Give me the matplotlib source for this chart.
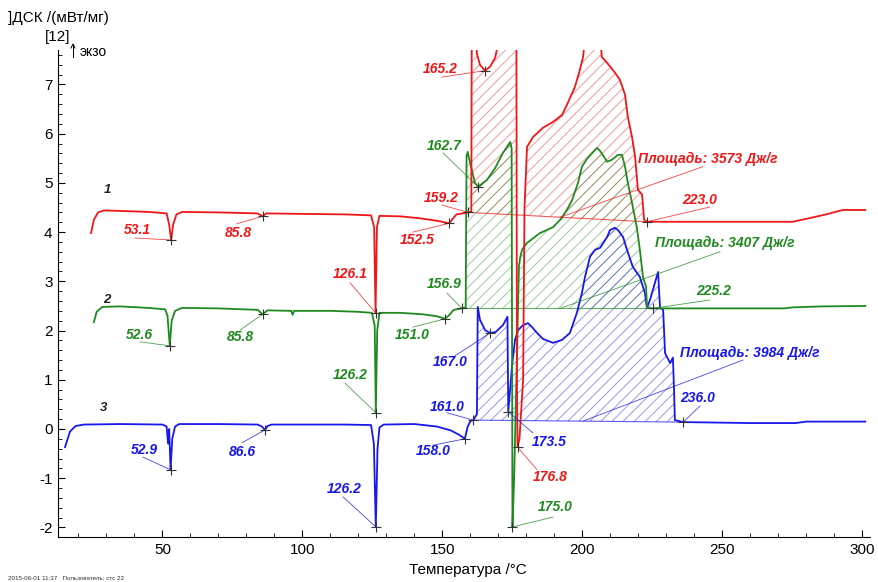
import numpy as np
import matplotlib.pyplot as plt
from matplotlib.ticker import MultipleLocator

plt.rcParams['font.family'] = ['Liberation Sans', 'DejaVu Sans']
plt.rcParams['hatch.linewidth'] = 0.6
plt.rcParams['axes.unicode_minus'] = False

RED = '#f21616'
GREEN = '#1f8a1f'
BLUE = '#1717ee'

# curve 1 (red)
t1 = [24.5, 25.5, 27, 29, 35, 45, 51.5, 52.4, 53.1, 53.8, 55, 57, 70, 84, 85.8, 87, 100, 115,
      124.5, 125.6, 126.1, 126.6, 127.5, 135, 142, 148, 152.5, 153.5, 155, 159.2, 160.3, 160.5,
      161.8, 162.3, 163.4, 165.2, 167.0, 168.8, 169.6, 170.5, 176.4, 176.6, 176.8, 177.5, 178.8,
      179.3, 180.2, 182.3, 185.9, 189.5, 192.7, 194.8, 197.3, 199.1, 200.2, 201.5, 204, 206,
      206.9, 208.8, 211.6, 213.4, 215.2, 216.2, 217.7, 218.8, 219.8, 221.3, 222.0, 223.0, 240,
      260, 275, 280, 287, 293, 301]
y1 = [3.98, 4.25, 4.40, 4.44, 4.43, 4.41, 4.38, 4.15, 3.84, 4.15, 4.36, 4.41, 4.40, 4.38, 4.32,
      4.38, 4.37, 4.36, 4.34, 4.10, 2.36, 4.10, 4.33, 4.32, 4.28, 4.23, 4.18, 4.26, 4.36, 4.40,
      4.42, 9.0, 8.2, 7.62, 7.40, 7.28, 7.36, 7.54, 7.75, 8.5, 8.5, 1.0, -0.37, -0.2, 1.0, 4.5,
      5.73, 5.93, 6.12, 6.24, 6.38, 6.63, 6.95, 7.30, 7.56, 8.2, 8.6, 8.2, 7.56, 7.44, 7.24, 7.09,
      6.79, 6.34, 5.93, 5.53, 4.86, 4.76, 4.25, 4.21, 4.21, 4.21, 4.21, 4.27, 4.36, 4.45, 4.45]

# curve 2 (green)
t2 = [25.5, 26.5, 28.5, 35, 45, 51.0, 51.8, 52.6, 53.3, 54.5, 57, 70, 84, 85.8, 87.5, 96, 96.5,
      97, 110, 120, 124.8, 125.8, 126.2, 126.7, 127.5, 135, 143, 148, 151.0, 152.5, 154, 156.9,
      158.3, 158.6, 159.0, 159.5, 160.5, 161.6, 162.7, 165.9, 168.8, 171.6, 174.2, 174.7, 175.0,
      175.6, 176.8, 177.3, 177.8, 178.5, 180.2, 184.8, 189.5, 192.7, 194.8, 196.3, 198.4, 199.8,
      201.9, 205.2, 206.3, 208.8, 210.5, 212.7, 214.1, 215.2, 216.2, 217.7, 219.4, 220.5, 221.6,
      222.7, 223.1, 225.2, 250, 272, 275, 285, 301]
y2 = [2.17, 2.38, 2.48, 2.49, 2.46, 2.43, 2.30, 1.69, 2.20, 2.40, 2.46, 2.45, 2.42, 2.33, 2.41,
      2.40, 2.32, 2.40, 2.40, 2.38, 2.36, 2.10, 0.33, 2.00, 2.36, 2.36, 2.33, 2.29, 2.24, 2.32,
      2.42, 2.45, 2.47, 5.55, 5.63, 5.50, 5.26, 5.00, 4.92, 5.06, 5.30, 5.61, 5.83, 5.70, -1.99,
      -1.0, 2.0, 3.3, 3.5, 3.65, 3.78, 3.98, 4.10, 4.29, 4.49, 4.65, 5.00, 5.33, 5.51, 5.71, 5.65,
      5.43, 5.47, 5.57, 5.57, 5.33, 5.00, 4.59, 4.10, 3.64, 3.09, 2.89, 2.46, 2.45, 2.45, 2.45,
      2.47, 2.49, 2.50]

# curve 3 (blue)
t3 = [15.2, 17, 19, 22, 35, 50, 51.5, 52.0, 52.4, 52.9, 53.5, 54.5, 56, 70, 84, 85.5, 86.6, 87.5,
      89, 100, 115, 124.5, 125.5, 126.2, 126.8, 127.5, 129, 140, 148, 153, 156, 158.0, 159, 160,
      161.0, 162.3, 162.6, 163.4, 165.2, 167.0, 169, 171.6, 173.2, 173.4, 173.5, 174.3, 174.8,
      175.9, 177, 178.8, 180.5, 182, 183.8, 185.9, 189.5, 192.7, 195.5, 198, 199.8, 200.9, 202.7,
      204.5, 206.3, 208.8, 209.8, 211.6, 212.7, 214.5, 215.9, 218, 220.5, 222.3, 223.0, 224.1,
      227, 227.7, 228.8, 229.5, 231.3, 232.3, 232.7, 233, 236.0, 260, 276, 280, 301]
y3 = [-0.37, -0.05, 0.06, 0.09, 0.10, 0.09, 0.05, -0.30, 0.0, -0.83, -0.20, 0.05, 0.10, 0.10,
      0.09, 0.05, -0.02, 0.06, 0.09, 0.09, 0.09, 0.08, -0.30, -1.99, -0.40, 0.03, 0.09, 0.10,
      0.05, -0.03, -0.12, -0.20, 0.05, 0.16, 0.18, 0.30, 2.48, 2.22, 2.01, 1.95, 1.97, 2.11, 2.28,
      1.0, 0.35, 0.90, 1.26, 1.81, 2.01, 2.11, 2.15, 2.07, 1.95, 1.83, 1.75, 1.81, 1.95, 2.36,
      2.76, 3.09, 3.50, 3.64, 3.68, 3.90, 4.04, 4.09, 4.04, 3.90, 3.64, 3.29, 3.09, 2.76, 2.46,
      2.62, 3.19, 2.46, 2.42, 1.54, 1.34, 1.45, 0.80, 0.18, 0.14, 0.12, 0.12, 0.15, 0.15]

peaks1 = [53.1, 85.8, 126.1, 152.5, 159.2, 165.2, 176.8, 223.0]
peaks2 = [52.6, 85.8, 126.2, 151.0, 156.9, 162.7, 175.0, 225.2]
peaks3 = [52.9, 86.6, 126.2, 158.0, 161.0, 167.0, 173.5, 236.0]
area_vals = [3573, 3407, 3984]
area_lims = [(159.2, 223.0), (156.9, 225.2), (161.0, 236.0)]

# label layout: (text x, text y, leader start x, leader start y)
lay1 = [(40.9, 4.04, 40.2, 3.88), (77.0, 3.98, 76.6, 4.17), (117.0, 3.15, 117.0, 2.97),
        (140.9, 3.84, 139.5, 4.00), (149.5, 4.70, 149.8, 4.55), (149.1, 7.32, 149.8, 7.15),
        (188.4, -0.98, 183.8, -0.83), (242.0, 4.65, 245.5, 4.51)]
lay2 = [(41.6, 1.91, 42.0, 1.77), (78.0, 1.87, 77.7, 2.01), (117.0, 1.10, 115.2, 0.93),
        (139.1, 1.91, 139.5, 2.07), (150.5, 2.95, 151.6, 2.76), (150.5, 5.75, 150.2, 5.61),
        (190.2, -1.59, 189.5, -1.79), (247.0, 2.80, 245.5, 2.62)]
lay3 = [(43.4, -0.43, 43.0, -0.57), (78.4, -0.47, 78.4, -0.28), (114.8, -1.22, 114.5, -1.38),
        (146.6, -0.45, 146.6, -0.33), (151.6, 0.45, 151.6, 0.33), (152.7, 1.36, 153.8, 1.46),
        (188.0, -0.26, 182.3, -0.08), (241.3, 0.63, 242.0, 0.47)]
area_lay = [(244.8, 5.49, 243.0, 5.33, 192.0), (250.9, 3.78, 249.1, 3.60, 192.0),
            (259.8, 1.54, 257.3, 1.40, 200.2)]
num_lay = [(30.2, 4.86), (30.2, 2.62), (28.8, 0.43)]

fig = plt.figure(figsize=(8.79, 5.82), dpi=100)
ax = fig.add_axes([0.066, 0.0773, 0.9238, 0.8368])
ax.set_xlim(12.7, 302.7)
ax.set_ylim(-2.195, 7.70)

curves = [(t1, y1, RED, peaks1, lay1), (t2, y2, GREEN, peaks2, lay2), (t3, y3, BLUE, peaks3, lay3)]

# hatched areas
for (t, y, c, pk, lay), (lo, hi) in zip(curves, area_lims):
    t = np.asarray(t)
    y = np.asarray(y)
    m = (t > lo) & (t < hi)
    tt = np.concatenate([[lo], t[m], [hi]])
    yy = np.interp(tt, t, y)
    base = np.interp(tt, [lo, hi], [np.interp(lo, t, y), np.interp(hi, t, y)])
    yy = np.maximum(yy, base)
    ax.fill(np.r_[tt, tt[::-1]], np.r_[yy, base[::-1]], facecolor='none',
            edgecolor=c, hatch='///', lw=0, alpha=0.5)
    ax.plot([lo, hi], [base[0], base[-1]], color=c, lw=0.8, alpha=0.7)

for t, y, c, pk, lay in curves[::-1]:
    ax.plot(t, y, color=c, lw=1.3)

for t, y, c, pk, lay in curves:
    for p, (tx, ty, sx, sy) in zip(pk, lay):
        py = np.interp(p, t, y)
        ax.plot([sx, p], [sy, py], color=c, lw=0.6, alpha=0.8)
        ax.plot(p, py, marker='+', color='#333333', ms=7, mew=0.8)
        ax.text(tx, ty, f'{p:.1f}', color=c, fontsize=10, fontweight='bold',
                fontstyle='italic', ha='center', va='center')

for (t, y, c, pk, lay), a, (tx, ty, sx, sy, ex), (lo, hi) in zip(curves, area_vals, area_lay, area_lims):
    ey = np.interp(ex, [lo, hi], [np.interp(lo, t, y), np.interp(hi, t, y)])
    ax.plot([sx, ex], [sy, ey], color=c, lw=0.6, alpha=0.8)
    ax.text(tx, ty, f'Площадь: {a} Дж/г', color=c, fontsize=10, fontweight='bold',
            fontstyle='italic', ha='center', va='center')

for i, (nx, ny) in enumerate(num_lay):
    ax.text(nx, ny, str(i + 1), color='#222222', fontsize=9.5, fontweight='bold',
            fontstyle='italic', ha='center', va='center')

ax.spines['top'].set_visible(False)
ax.spines['right'].set_visible(False)
ax.xaxis.set_major_locator(MultipleLocator(50))
ax.xaxis.set_minor_locator(MultipleLocator(10))
ax.yaxis.set_major_locator(MultipleLocator(1))
ax.yaxis.set_minor_locator(MultipleLocator(0.2))
ax.tick_params(which='both', direction='in', labelsize=11, pad=4)
ax.tick_params(which='major', length=5, width=0.8)
ax.tick_params(which='minor', length=3, width=0.6)
ax.set_xticks([50, 100, 150, 200, 250, 300])

fig.text(468 / 879, 1 - 570 / 582, 'Температура /°C', fontsize=11, ha='center', va='center')
fig.text(8 / 879, 1 - 18 / 582, ']ДСК /(мВт/мг)', fontsize=11, ha='left', va='center')
fig.text(58 / 879, 1 - 37 / 582, '[12]', fontsize=11, ha='center', va='center')
fig.text(80 / 879, 1 - 52 / 582, 'экзо', fontsize=10, ha='left', va='center')
fig.add_artist(plt.Line2D([73 / 879, 73 / 879], [1 - 57 / 582, 1 - 44 / 582], color='black', lw=0.7))
fig.add_artist(plt.Line2D([71 / 879, 73 / 879, 75 / 879], [1 - 48 / 582, 1 - 44 / 582, 1 - 48 / 582],
                          color='black', lw=0.7))
fig.text(8 / 879, 1 - 578 / 582, '2015-06-01 11:37   Пользователь: стс 22', fontsize=4.5,
         ha='left', va='center', color='#333333')

fig.savefig('out.png', dpi=100)
